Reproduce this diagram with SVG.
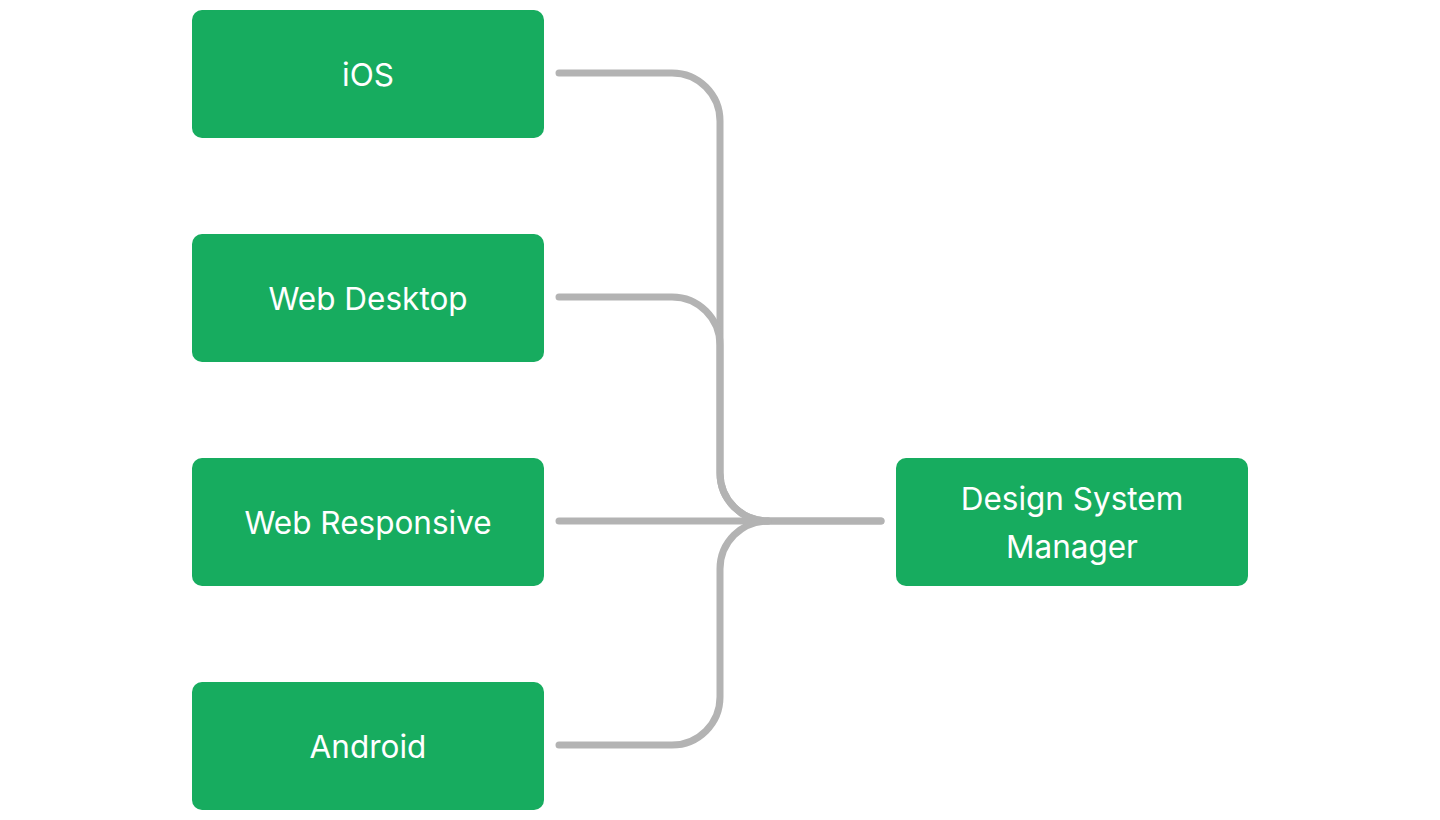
<svg xmlns="http://www.w3.org/2000/svg" width="1440" height="820" viewBox="0 0 1440 820">
<style>
.box{fill:#17ac5f}
.lbl{fill:#ffffff;font-family:Inter,"Noto Sans","Liberation Sans",sans-serif;font-size:31.5px;text-anchor:middle;dominant-baseline:central}
.edge{fill:none;stroke:#b3b3b3;stroke-width:7;stroke-linecap:round;stroke-linejoin:round}
</style>
<rect width="1440" height="820" fill="#ffffff"/>
<g id="connectors">
<path class="edge" d="M559 73 H672 A48 48 0 0 1 720 121 V473 A48 48 0 0 0 768 521 H881"/>
<path class="edge" d="M559 297 H672 A48 48 0 0 1 720 345 V473 A48 48 0 0 0 768 521"/>
<path class="edge" d="M559 521 H881"/>
<path class="edge" d="M559 745 H672 A48 48 0 0 0 720 697 V569 A48 48 0 0 1 768 521"/>
</g>
<g id="ios"><rect class="box" x="192" y="10" width="352" height="128" rx="10"/><text class="lbl" x="368" y="74">iOS</text></g>
<g id="web-desktop"><rect class="box" x="192" y="234" width="352" height="128" rx="10"/><text class="lbl" x="368" y="298">Web Desktop</text></g>
<g id="web-responsive"><rect class="box" x="192" y="458" width="352" height="128" rx="10"/><text class="lbl" x="368" y="522">Web Responsive</text></g>
<g id="android"><rect class="box" x="192" y="682" width="352" height="128" rx="10"/><text class="lbl" x="368" y="746">Android</text></g>
<g id="design-system-manager"><rect class="box" x="896" y="458" width="352" height="128" rx="10"/><text class="lbl" x="1072" y="498">Design System</text><text class="lbl" x="1072" y="546">Manager</text></g>
</svg>
